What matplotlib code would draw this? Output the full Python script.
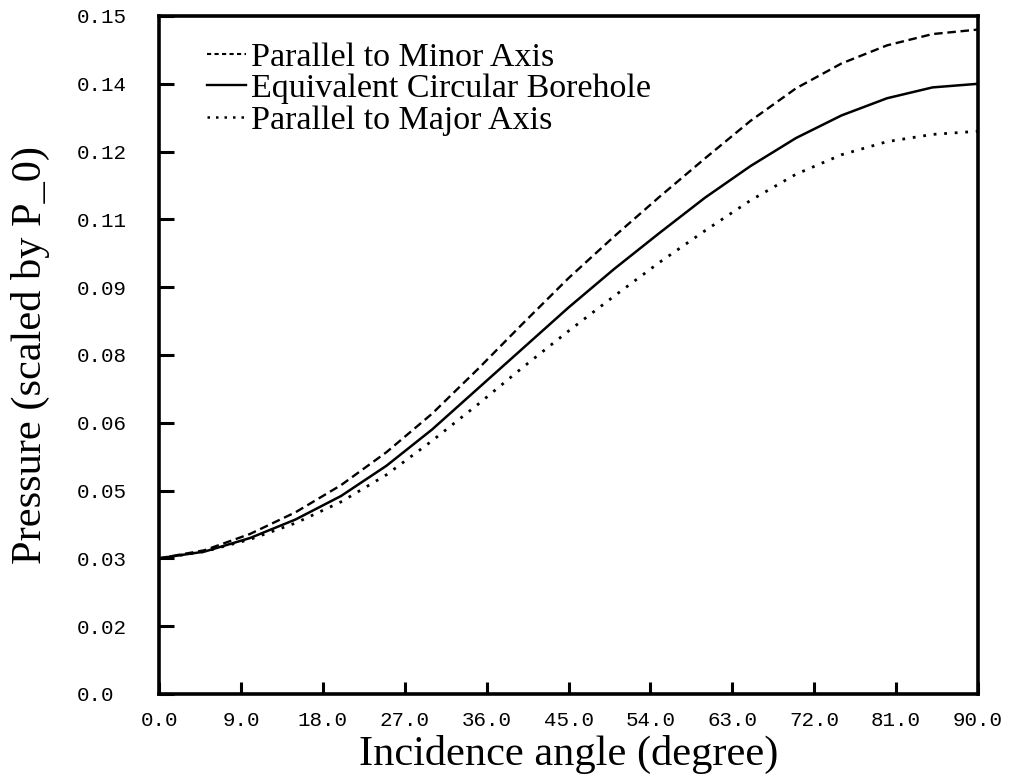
import matplotlib
matplotlib.use('Agg')
import matplotlib.pyplot as plt
from matplotlib.lines import Line2D

# incidence angle (degree)
angle = [0, 5, 10, 15, 20, 25, 30, 35, 40, 45, 50, 55, 60, 65, 70, 75, 80, 85, 90]

# pressure scaled by P_0
minor_axis = [0.0300, 0.0318, 0.0354, 0.0402, 0.0462, 0.0535, 0.0620, 0.0718, 0.0820,
              0.0920, 0.1012, 0.1100, 0.1185, 0.1268, 0.1340, 0.1395, 0.1435, 0.1460, 0.1470]
circular = [0.0300, 0.0315, 0.0345, 0.0386, 0.0438, 0.0505, 0.0585, 0.0675, 0.0765,
            0.0855, 0.0940, 0.1020, 0.1098, 0.1168, 0.1230, 0.1280, 0.1318, 0.1342, 0.1350]
major_axis = [0.0300, 0.0315, 0.0342, 0.0378, 0.0425, 0.0485, 0.0560, 0.0640, 0.0723,
              0.0803, 0.0880, 0.0955, 0.1025, 0.1092, 0.1150, 0.1193, 0.1222, 0.1238, 0.1245]

xticks = [0, 9, 18, 27, 36, 45, 54, 63, 72, 81, 90]
xtick_labels = ['0.0', '9.0', '18.0', '27.0', '36.0', '45.0', '54.0', '63.0', '72.0', '81.0', '90.0']
yticks = [0.0, 0.015, 0.03, 0.045, 0.06, 0.075, 0.09, 0.105, 0.12, 0.135, 0.15]
ytick_labels = ['0.0', '0.02', '0.03', '0.05', '0.06', '0.08', '0.09', '0.11', '0.12', '0.14', '0.15']

labels = ['Parallel to Minor Axis', 'Equivalent Circular Borehole', 'Parallel to Major Axis']

fig = plt.figure(figsize=(10.09, 7.8), dpi=100)
ax = fig.add_axes([0.1576, 0.1103, 0.9693 - 0.1576, 0.9795 - 0.1103])

ax.plot(angle, minor_axis, color='black', lw=1.7, linestyle=(0, (3.6, 2.0)))
ax.plot(angle, circular, color='black', lw=1.8, linestyle='-')
ax.plot(angle, major_axis, color='black', lw=2.0, linestyle=(0, (1.0, 2.8)))

ax.set_xlim(0, 90)
ax.set_ylim(0, 0.15)

for s in ax.spines.values():
    s.set_linewidth(2.6)

ax.set_xticks(xticks)
ax.set_xticklabels(xtick_labels, family='Liberation Mono', fontsize=15)
ax.set_yticks(yticks)
ax.set_yticklabels(ytick_labels, family='Liberation Mono', fontsize=15)
ax.tick_params(axis='x', direction='in', length=9, width=2.2, pad=12)
ax.tick_params(axis='y', direction='in', length=11, width=2.2, pad=59)
plt.setp(ax.get_yticklabels(), ha='left')

ax.set_xlabel('Incidence angle (degree)', family='Liberation Serif', fontsize=30.5)
ax.set_ylabel('Pressure (scaled by P_0)', family='Liberation Serif', fontsize=30.5)
ax.xaxis.set_label_coords(0.5, -0.06)
ax.yaxis.set_label_coords(-0.133, 0.5)

# legend samples
handles = [
    Line2D([], [], color='black', lw=1.5, linestyle=(0, (2.0, 1.6))),
    Line2D([], [], color='black', lw=1.7, linestyle='-'),
    Line2D([], [], color='black', lw=1.8, linestyle=(0, (1.0, 2.4))),
]
ax.legend(handles, labels, loc='upper left', bbox_to_anchor=(0.0586, 0.9617),
          frameon=False, borderpad=0, borderaxespad=0, handlelength=1.15,
          handletextpad=0.15, labelspacing=0.02,
          prop={'family': 'Liberation Serif', 'size': 24.5})

fig.savefig('out.png', dpi=100, facecolor='white')
